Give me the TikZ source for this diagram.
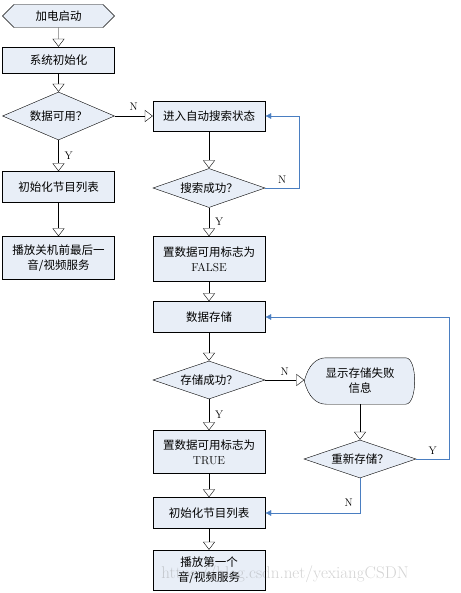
\documentclass[tikz,border=0pt]{standalone}
\usepackage{fontspec}
\newfontfamily\cjk{Noto Sans CJK SC}
\usepackage{xcolor}
\usetikzlibrary{
  arrows.meta,
  shapes.geometric,
  shapes.symbols,
  backgrounds,
  positioning
}
\definecolor{boxfill}{HTML}{E8EEF7}
\definecolor{loopblue}{HTML}{4A7EC1}

\begin{document}
\begin{tikzpicture}
  [
    x=1pt, y=-1pt,
    every node/.style={font=\cjk\fontsize{11.5}{15}\selectfont, align=center, inner sep=0pt},
    proc/.style={draw, fill=boxfill, minimum width=112pt, minimum height=31pt},
    dec/.style={draw, fill=boxfill, diamond, aspect=2.8, minimum width=112pt, minimum height=39pt},
    term/.style={draw, fill=boxfill, signal, signal to=east and west, minimum width=112pt, minimum height=23pt},
    disp/.style={minimum width=111pt, minimum height=46pt},
    flow/.style={-{Triangle[length=8pt, width=12pt, fill=white]}},
    back/.style={loopblue, -{Latex[length=6pt, width=6pt]}},
    lbl/.style={text=black, font=\rmfamily\fontsize{11}{12}\selectfont},
  ]
  \useasboundingbox (0,0) rectangle (460,593);
  % left column
  \node [term] (start) at (58.5,16) {加电启动};
  \node [proc, minimum height=26pt] (sysinit) at (58.5,60) {系统初始化};
  \node [dec, minimum height=48pt] (avail) at (58.5,116) {数据可用？};
  \node [proc] (listA) at (58.5,187) {初始化节目列表};
  \node [proc, minimum height=43pt] (playA) at (58.5,258) {播放关机前最后一\\音/视频服务};
  % right column
  \node [proc, minimum height=30pt] (search) at (209,116) {进入自动搜索状态};
  \node [dec] (found) at (209,188) {搜索成功？};
  \node [proc, minimum height=45pt] (setF) at (209,259) {置数据可用标志为\\{\rmfamily FALSE}};
  \node [proc] (store) at (209,317) {数据存储};
  \node [dec, minimum height=38pt] (stored) at (209,380) {存储成功？};
  \node [proc, minimum height=43pt] (setT) at (209,452) {置数据可用标志为\\{\rmfamily TRUE}};
  \node [proc] (listB) at (209,513) {初始化节目列表};
  \node [proc, minimum height=40pt] (playB) at (209,570) {播放第一个\\音/视频服务};
  % failure branch
  \node [disp] (fail) at (360,381) {显示存储失败\\信息};
  \node [dec, minimum height=38pt] (retry) at (360,459) {重新存储？};
  \begin{scope}[on background layer]
    \draw [fill=boxfill] (fail.west)
      .. controls ([xshift=4pt, yshift=16pt]fail.west) and ([xshift=12pt]fail.north west) .. ([xshift=22pt]fail.north west)
      -- ([xshift=-10pt]fail.north east)
      .. controls ([xshift=2pt]fail.north east) and ([xshift=2pt]fail.south east) .. ([xshift=-10pt]fail.south east)
      -- ([xshift=22pt]fail.south west)
      .. controls ([xshift=12pt]fail.south west) and ([xshift=4pt, yshift=-16pt]fail.west) .. (fail.west)
      -- cycle;
  \end{scope}

  \draw [flow] (start) -- (sysinit);
  \draw [flow] (sysinit) -- (avail);
  \draw [flow] (avail.east) -- node [lbl, above=5pt] (nAvail) {N} (search.west);
  \draw [flow] (avail.south) -- node [lbl, right=6pt] (yAvail) {Y} (listA.north);
  \draw [flow] (listA) -- (playA);
  \draw [flow] (search) -- (found);
  \draw [back] (found.east) -- node [lbl, above=4pt] (nFound) {N} ++(34,0) |- (search.east);
  \draw [flow] (found.south) -- node [lbl, right=6pt] (yFound) {Y} (setF.north);
  \draw [flow] (setF) -- (store);
  \draw [flow] (store) -- (stored);
  \draw [flow] (stored.east) -- node [lbl, above=4pt] (nStored) {N} (stored.east -| fail.west);
  \draw [flow] (stored.south) -- node [lbl, right=6pt] (yStored) {Y} (setT.north);
  \draw [flow] (setT) -- (listB);
  \draw [flow] (listB) -- (playB);
  \draw [flow] (fail.south) -- (retry.north);
  \draw [back] (retry.east) -- node [lbl, above=4pt] (yRetry) {Y} ++(33,0) |- (store.east);
  \draw [back] (retry.south) -- node [lbl, left=7pt, pos=.7] (nRetry) {N} (retry.south |- listB.east) -- (listB.east);

  \node [font=\rmfamily\fontsize{17}{17}\selectfont, text=gray, opacity=.35] (mark) at (285,574) {https://blog.csdn.net/yexiangCSDN};
\end{tikzpicture}
\end{document}
